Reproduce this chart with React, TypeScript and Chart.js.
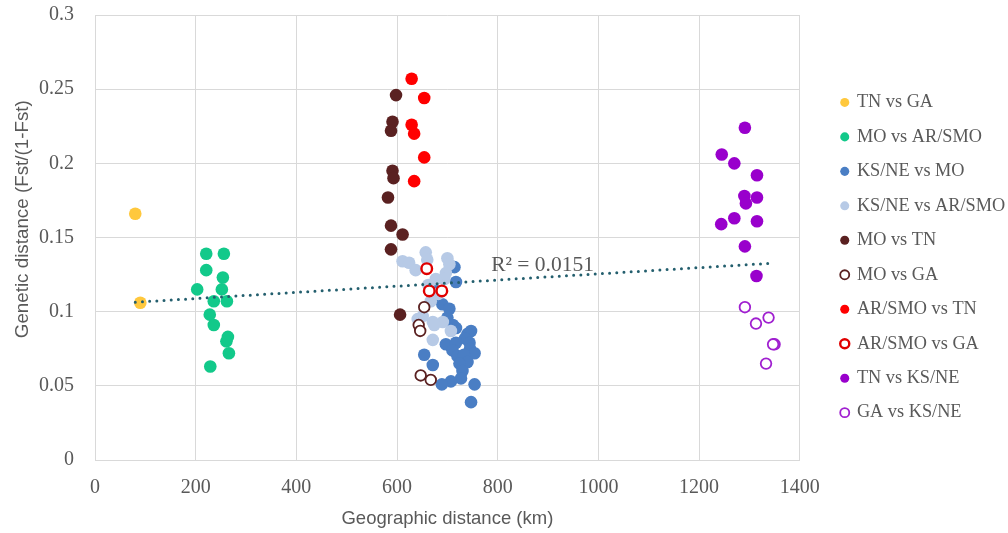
import { useEffect, useRef } from 'react';
import { Chart, registerables } from 'chart.js';

Chart.register(...registerables);

// ---- data (km, Fst/(1-Fst)) ----
const seriesLabels = [
  'TN vs GA',
  'MO vs AR/SMO',
  'KS/NE vs MO',
  'KS/NE vs AR/SMO',
  'MO vs TN',
  'MO vs GA',
  'AR/SMO vs TN',
  'AR/SMO vs GA',
  'TN vs KS/NE',
  'GA vs KS/NE',
];

const tnVsGa: [number, number][] = [[80, 0.166], [90, 0.106]];
const moVsArSmo: [number, number][] = [
  [221, 0.139], [256, 0.139], [221, 0.128], [254, 0.123], [252, 0.115], [203, 0.115], [236, 0.107],
  [262, 0.107], [228, 0.098], [236, 0.091], [264, 0.083], [261, 0.080], [266, 0.072], [229, 0.063],
];
const ksneVsMo: [number, number][] = [
  [714, 0.130], [717, 0.120], [671, 0.116], [678, 0.109], [690, 0.105], [704, 0.102], [700, 0.096],
  [711, 0.091], [717, 0.089], [747, 0.087], [740, 0.085], [735, 0.082], [697, 0.078], [717, 0.079],
  [744, 0.079], [710, 0.074], [745, 0.075], [754, 0.072], [720, 0.070], [733, 0.071], [654, 0.071],
  [671, 0.064], [740, 0.066], [724, 0.065], [730, 0.060], [727, 0.055], [707, 0.053], [689, 0.051],
  [754, 0.051], [747, 0.039],
];
const ksneVsArSmo: [number, number][] = [
  [611, 0.134], [624, 0.133], [657, 0.140], [660, 0.135], [637, 0.128], [700, 0.136], [704, 0.132],
  [697, 0.126], [694, 0.122], [677, 0.122], [662, 0.118], [667, 0.107], [682, 0.112], [651, 0.097],
  [641, 0.095], [671, 0.093], [691, 0.093], [707, 0.087], [674, 0.091], [671, 0.081],
];
const moVsTn: [number, number][] = [
  [598, 0.246], [591, 0.228], [588, 0.222], [591, 0.195], [593, 0.190], [582, 0.177], [588, 0.158],
  [611, 0.152], [588, 0.142], [606, 0.098],
];
const moVsGaData: [number, number][] = [[654, 0.103], [643, 0.091], [646, 0.087], [647, 0.057], [667, 0.054]];
const arSmoVsTn: [number, number][] = [
  [629, 0.257], [654, 0.244], [629, 0.226], [634, 0.220], [654, 0.204], [634, 0.188],
];
const arSmoVsGa: [number, number][] = [[659, 0.129], [664, 0.114], [689, 0.114]];
const tnVsKsne: [number, number][] = [
  [1291, 0.224], [1245, 0.206], [1270, 0.200], [1315, 0.192], [1290, 0.178], [1315, 0.177],
  [1293, 0.173], [1270, 0.163], [1244, 0.159], [1315, 0.161], [1291, 0.144], [1314, 0.124],
];
const gaVsKsne: [number, number][] = [
  [1291, 0.103], [1313, 0.092], [1338, 0.096], [1350, 0.078], [1347, 0.078], [1333, 0.065],
];

const seriesData = [tnVsGa, moVsArSmo, ksneVsMo, ksneVsArSmo, moVsTn, moVsGaData, arSmoVsTn, arSmoVsGa, tnVsKsne, gaVsKsne];

const xTicks = [0, 200, 400, 600, 800, 1000, 1200, 1400];
const xTickLabels = ['0', '200', '400', '600', '800', '1000', '1200', '1400'];
const yTicks = [0, 0.05, 0.1, 0.15, 0.2, 0.25, 0.3];
const yTickLabels = ['0', '0.05', '0.1', '0.15', '0.2', '0.25', '0.3'];

const xTitle = 'Geographic distance (km)';
const yTitle = 'Genetic distance (Fst/(1-Fst)';
const trendLabel = 'R² = 0.0151';
const trendLabelAt = { x: 787, y: 0.1315 };

// ---- styles ----
const colors = ['#FFC83D', '#12C98A', '#4A7EC4', '#B7CAE6', '#5A2121', '#5A2121', '#FF0000', '#E00000', '#9900CC', '#A020D0'];
const hollow = [false, false, false, false, false, true, false, true, false, true];
const hollowWidth = [0, 0, 0, 0, 0, 1.8, 0, 2.4, 0, 1.8];
const textColor = '#595959';
const gridColor = '#D9D9D9';
const serif = '"Liberation Serif", "Times New Roman", serif';
const sans = '"Liberation Sans", Arial, sans-serif';

function regression(points: [number, number][]) {
  const n = points.length;
  let sx = 0, sy = 0;
  points.forEach(([x, y]) => { sx += x; sy += y; });
  const mx = sx / n, my = sy / n;
  let sxy = 0, sxx = 0;
  points.forEach(([x, y]) => { sxy += (x - mx) * (y - my); sxx += (x - mx) * (x - mx); });
  const slope = sxy / sxx;
  return { slope, intercept: my - slope * mx };
}

const trendLabelPlugin = {
  id: 'trendLabel',
  afterDatasetsDraw(chart: any) {
    const { ctx, scales } = chart;
    const px = scales.x.getPixelForValue(trendLabelAt.x);
    const py = scales.y.getPixelForValue(trendLabelAt.y);
    ctx.save();
    ctx.font = `21.5px ${serif}`;
    ctx.fillStyle = textColor;
    ctx.textAlign = 'left';
    ctx.textBaseline = 'middle';
    ctx.fillText(trendLabel, px, py);
    ctx.restore();
  },
};

export default function App() {
  const ref = useRef<HTMLCanvasElement | null>(null);

  useEffect(() => {
    if (!ref.current) return;
    const all = seriesData.flat();
    const { slope, intercept } = regression(all);
    const xs = all.map((p) => p[0]);
    const xmin = Math.min(...xs);
    const xmax = Math.max(...xs);
    const n = seriesLabels.length;

    const datasets: any[] = seriesLabels.map((label, i) => ({
      type: 'scatter',
      label,
      data: seriesData[i].map(([x, y]) => ({ x, y })),
      backgroundColor: hollow[i] ? '#FFFFFF' : colors[i],
      borderColor: colors[i],
      borderWidth: hollowWidth[i],
      pointRadius: hollow[i] ? 5.3 : 6.3,
      pointHoverRadius: hollow[i] ? 5.3 : 6.3,
      order: n - i + 1,
    }));
    datasets.push({
      type: 'line',
      label: 'trend',
      data: [
        { x: xmin, y: intercept + slope * xmin },
        { x: xmax, y: intercept + slope * xmax },
      ],
      borderColor: '#245F6E',
      borderWidth: 3,
      borderDash: [0, 7.2],
      borderCapStyle: 'round',
      pointRadius: 0,
      fill: false,
      order: 0,
    });

    const chart = new Chart(ref.current, {
      type: 'scatter',
      data: { datasets },
      plugins: [trendLabelPlugin],
      options: {
        animation: false,
        responsive: false,
        devicePixelRatio: 1,
        layout: { padding: { top: 0, right: -7.2, bottom: 0, left: 0 } },
        plugins: {
          tooltip: { enabled: false },
          legend: {
            position: 'right',
            align: 'start',
            maxWidth: 230,
            title: { display: true, text: '', padding: { top: 65.1, bottom: 0 }, font: { size: 10 } },
            labels: {
              usePointStyle: true,
              pointStyle: 'circle',
              boxWidth: 6,
              boxHeight: 6.4,
              padding: 16.17,
              color: textColor,
              font: { family: serif, size: 18.3 },
              filter: (item: any) => item.datasetIndex < n,
              sort: (a: any, b: any) => a.datasetIndex - b.datasetIndex,
            },
          },
        },
        scales: {
          x: {
            type: 'linear',
            min: 0,
            max: 1400,
            afterBuildTicks: (s: any) => { s.ticks = xTicks.map((v) => ({ value: v })); },
            ticks: {
              callback: (_v: any, i: number) => xTickLabels[i],
              font: { family: serif, size: 20 },
              color: textColor,
              padding: 16,
              maxRotation: 0,
              autoSkip: false,
            },
            grid: { color: gridColor, drawTicks: false, lineWidth: 1 },
            border: { color: gridColor },
            title: {
              display: true,
              text: xTitle,
              color: textColor,
              font: { family: sans, size: 18.5 },
              padding: { top: 0, bottom: 3 },
            },
            afterFit: (s: any) => { s.height = 73; },
          },
          y: {
            type: 'linear',
            min: 0,
            max: 0.3,
            afterBuildTicks: (s: any) => { s.ticks = yTicks.map((v) => ({ value: v })); },
            ticks: {
              callback: (_v: any, i: number) => yTickLabels[i],
              font: { family: serif, size: 20 },
              color: textColor,
              padding: 3,
              autoSkip: false,
            },
            grid: { color: gridColor, drawTicks: true, tickLength: 18, tickColor: 'rgba(0,0,0,0)', lineWidth: 1 },
            border: { color: gridColor },
            title: {
              display: true,
              text: '       ' + yTitle,
              color: textColor,
              font: { family: sans, size: 18.8 },
              padding: { top: 11.2, bottom: 0 },
            },
            afterFit: (s: any) => { s.width = 95; },
          },
          y2: {
            type: 'linear',
            position: 'right',
            display: true,
            grid: { display: false },
            ticks: { display: false },
            border: { display: false },
            afterFit: (s: any) => { s.width = 25.8; },
          },
        },
      } as any,
    });
    return () => chart.destroy();
  }, []);

  return (
    <div style={{ position: 'absolute', left: 0, top: 0, width: 1008, height: 533, background: '#FFFFFF' }}>
      <canvas ref={ref} width={1008} height={533} style={{ display: 'block', width: 1008, height: 533 }} />
    </div>
  );
}
